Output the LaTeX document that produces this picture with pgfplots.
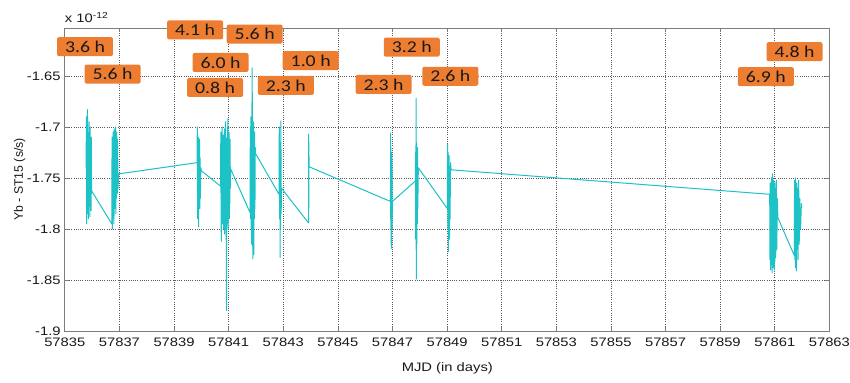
\documentclass[border=0pt]{standalone}
\usepackage{fontspec}
\setmainfont{Liberation Sans}[FakeStretch=1.2]
\newfontfamily\ylfont{Liberation Sans}
\newfontfamily\lblfont{Carlito}[FakeStretch=1.2]
\usepackage{pgfplots}
\pgfplotsset{compat=1.18}
\definecolor{tealc}{RGB}{28,194,198}
\definecolor{orangec}{RGB}{237,125,49}
\definecolor{framec}{RGB}{125,125,125}
\tikzset{lbl/.style={fill=orangec, rounded corners=2bp, inner xsep=8bp, inner ysep=0pt, minimum height=19bp, text=black!90, font=\lblfont\fontsize{16.5bp}{18bp}\selectfont}}
\begin{document}
\begin{tikzpicture}
\useasboundingbox (-64.8bp,-52bp) rectangle (785.2bp,331bp);
\begin{axis}[
  scale only axis, width=765bp, height=303bp,
  xmin=57835, xmax=57863, ymin=-1.9, ymax=-1.603,
  xtick={57835,57837,...,57863},
  ytick={-1.9,-1.85,-1.8,-1.75,-1.7,-1.65},
  scaled x ticks=false, scaled y ticks=false,
  /pgf/number format/assume math mode=true,
  xticklabel style={/pgf/number format/fixed, /pgf/number format/precision=0, /pgf/number format/set thousands separator={}, anchor=north, inner sep=0pt, yshift=-6.5bp},
  yticklabel style={/pgf/number format/fixed, /pgf/number format/precision=2, anchor=east, inner sep=0pt, xshift=-4bp},
  ticklabel style={font=\fontsize{12.3bp}{14bp}\selectfont, text=black!90},
  tick align=inside, major tick length=4.5bp,
  tick style={framec, line width=0.7bp},
  axis line style={framec, line width=0.9bp},
  grid=major,
  major grid style={black!65, line width=0.65bp, dash pattern=on 0.9bp off 1.3bp},
  xlabel={MJD (in days)},
  xlabel style={at={(axis description cs:0.5,-0.122)}, anchor=center, font=\fontsize{12.3bp}{14bp}\selectfont, text=black!90},
  ylabel={\ylfont Yb - ST15 (s/s)},
  ylabel style={at={(axis description cs:-0.0588,0.5)}, anchor=center, font=\fontsize{12.3bp}{14bp}\selectfont, text=black!90},
  clip=false,
]
\addplot[color=tealc, line width=1bp, line join=round] coordinates {
(57835.78,-1.740) (57835.79,-1.690) (57835.80,-1.795) (57835.81,-1.700)
(57835.82,-1.785) (57835.83,-1.683) (57835.84,-1.770) (57835.85,-1.705)
(57835.86,-1.790) (57835.87,-1.710) (57835.88,-1.778) (57835.89,-1.695)
(57835.90,-1.760) (57835.91,-1.712) (57835.92,-1.788) (57835.93,-1.700)
(57835.94,-1.775) (57835.95,-1.720) (57835.96,-1.782) (57835.97,-1.710)
(57835.98,-1.765) (57835.99,-1.763)
(57836.72,-1.795) (57836.73,-1.710) (57836.74,-1.800) (57836.75,-1.720)
(57836.76,-1.790) (57836.77,-1.705) (57836.78,-1.785) (57836.79,-1.715)
(57836.80,-1.795) (57836.81,-1.702) (57836.82,-1.780) (57836.83,-1.712)
(57836.85,-1.775) (57836.86,-1.700) (57836.87,-1.785) (57836.88,-1.718)
(57836.89,-1.770) (57836.90,-1.705) (57836.92,-1.765) (57836.93,-1.712)
(57836.95,-1.760) (57836.97,-1.746)
(57839.84,-1.735) (57839.85,-1.700) (57839.86,-1.790) (57839.87,-1.715)
(57839.88,-1.775) (57839.89,-1.710) (57839.90,-1.798) (57839.91,-1.725)
(57839.92,-1.765) (57839.93,-1.712) (57839.94,-1.780) (57839.95,-1.730)
(57839.96,-1.770) (57839.98,-1.740) (57840.00,-1.743)
(57840.70,-1.758) (57840.71,-1.705) (57840.72,-1.790) (57840.73,-1.812)
(57840.74,-1.710) (57840.75,-1.785) (57840.76,-1.700) (57840.77,-1.795)
(57840.78,-1.715) (57840.79,-1.780) (57840.80,-1.708) (57840.81,-1.800)
(57840.82,-1.720) (57840.83,-1.790) (57840.84,-1.702) (57840.85,-1.805)
(57840.86,-1.712) (57840.87,-1.785) (57840.88,-1.695) (57840.89,-1.800)
(57840.90,-1.710) (57840.91,-1.820) (57840.92,-1.880) (57840.93,-1.715)
(57840.94,-1.795) (57840.95,-1.700) (57840.96,-1.790) (57840.97,-1.692)
(57840.98,-1.800) (57840.99,-1.710) (57841.00,-1.785) (57841.01,-1.705)
(57841.02,-1.790) (57841.03,-1.720) (57841.04,-1.775) (57841.05,-1.712)
(57841.06,-1.760) (57841.07,-1.741)
(57841.78,-1.784) (57841.79,-1.700) (57841.80,-1.790) (57841.81,-1.690)
(57841.82,-1.800) (57841.83,-1.705) (57841.84,-1.815) (57841.85,-1.683)
(57841.86,-1.642) (57841.865,-1.795) (57841.87,-1.700) (57841.88,-1.829)
(57841.89,-1.710) (57841.90,-1.805) (57841.91,-1.695) (57841.92,-1.825)
(57841.93,-1.712) (57841.94,-1.790) (57841.95,-1.705) (57841.96,-1.780)
(57841.97,-1.720) (57841.98,-1.726)
(57842.84,-1.766) (57842.85,-1.700) (57842.86,-1.790) (57842.87,-1.715)
(57842.88,-1.828) (57842.89,-1.720) (57842.90,-1.800) (57842.91,-1.694)
(57842.92,-1.785) (57842.93,-1.760)
(57843.92,-1.794) (57843.925,-1.707) (57843.93,-1.780) (57843.935,-1.715)
(57843.94,-1.739)
(57846.92,-1.773) (57846.925,-1.706) (57846.93,-1.790) (57846.935,-1.720)
(57846.94,-1.815) (57846.945,-1.730) (57846.95,-1.795) (57846.955,-1.725)
(57846.96,-1.819) (57846.965,-1.732) (57846.97,-1.790) (57846.975,-1.728)
(57846.98,-1.800) (57846.99,-1.773)
(57847.83,-1.753) (57847.84,-1.725) (57847.845,-1.810) (57847.85,-1.718)
(57847.855,-1.820) (57847.86,-1.672) (57847.865,-1.849) (57847.87,-1.715)
(57847.875,-1.805) (57847.88,-1.722) (57847.885,-1.815) (57847.89,-1.730)
(57847.90,-1.795) (57847.91,-1.720) (57847.92,-1.780) (57847.94,-1.740)
(57849.00,-1.780) (57849.01,-1.717) (57849.02,-1.800) (57849.03,-1.725)
(57849.04,-1.822) (57849.05,-1.735) (57849.06,-1.795) (57849.07,-1.728)
(57849.08,-1.810) (57849.09,-1.740) (57849.10,-1.790) (57849.12,-1.735)
(57849.14,-1.742)
(57860.80,-1.766) (57860.81,-1.830) (57860.82,-1.755) (57860.83,-1.840)
(57860.84,-1.760) (57860.85,-1.825) (57860.86,-1.750) (57860.87,-1.835)
(57860.88,-1.762) (57860.89,-1.843) (57860.90,-1.746) (57860.91,-1.830)
(57860.92,-1.758) (57860.93,-1.838) (57860.94,-1.752) (57860.95,-1.826)
(57860.96,-1.765) (57860.97,-1.840) (57860.98,-1.755) (57860.99,-1.832)
(57861.00,-1.760) (57861.02,-1.828) (57861.04,-1.752) (57861.06,-1.820)
(57861.08,-1.770) (57861.10,-1.789)
(57861.70,-1.826) (57861.71,-1.752) (57861.72,-1.830) (57861.73,-1.760)
(57861.74,-1.838) (57861.75,-1.750) (57861.76,-1.825) (57861.77,-1.765)
(57861.78,-1.841) (57861.79,-1.755) (57861.80,-1.820) (57861.82,-1.760)
(57861.84,-1.830) (57861.86,-1.752) (57861.88,-1.815) (57861.90,-1.770)
(57861.93,-1.800) (57861.96,-1.775)
};
\node[lbl] at (axis cs:57835.74,-1.6213) {3.6 h};
\node[lbl] at (axis cs:57836.75,-1.6482) {5.6 h};
\node[lbl] at (axis cs:57839.77,-1.6049) {4.1 h};
\node[lbl] at (axis cs:57841.95,-1.6090) {5.6 h};
\node[lbl] at (axis cs:57840.70,-1.6368) {6.0 h};
\node[lbl] at (axis cs:57840.50,-1.6613) {0.8 h};
\node[lbl] at (axis cs:57844.00,-1.6351) {1.0 h};
\node[lbl] at (axis cs:57843.09,-1.6593) {2.3 h};
\node[lbl] at (axis cs:57847.70,-1.6218) {3.2 h};
\node[lbl] at (axis cs:57846.67,-1.6583) {2.3 h};
\node[lbl] at (axis cs:57849.11,-1.6503) {2.6 h};
\node[lbl] at (axis cs:57861.71,-1.6262) {4.8 h};
\node[lbl] at (axis cs:57860.66,-1.6507) {6.9 h};
\node[anchor=base west, inner sep=0pt, text=black!90, font=\fontsize{12.3bp}{14bp}\selectfont] at ([yshift=5bp]axis description cs:0,1) {x 10\textsuperscript{-12}};
\end{axis}
\end{tikzpicture}
\end{document}
